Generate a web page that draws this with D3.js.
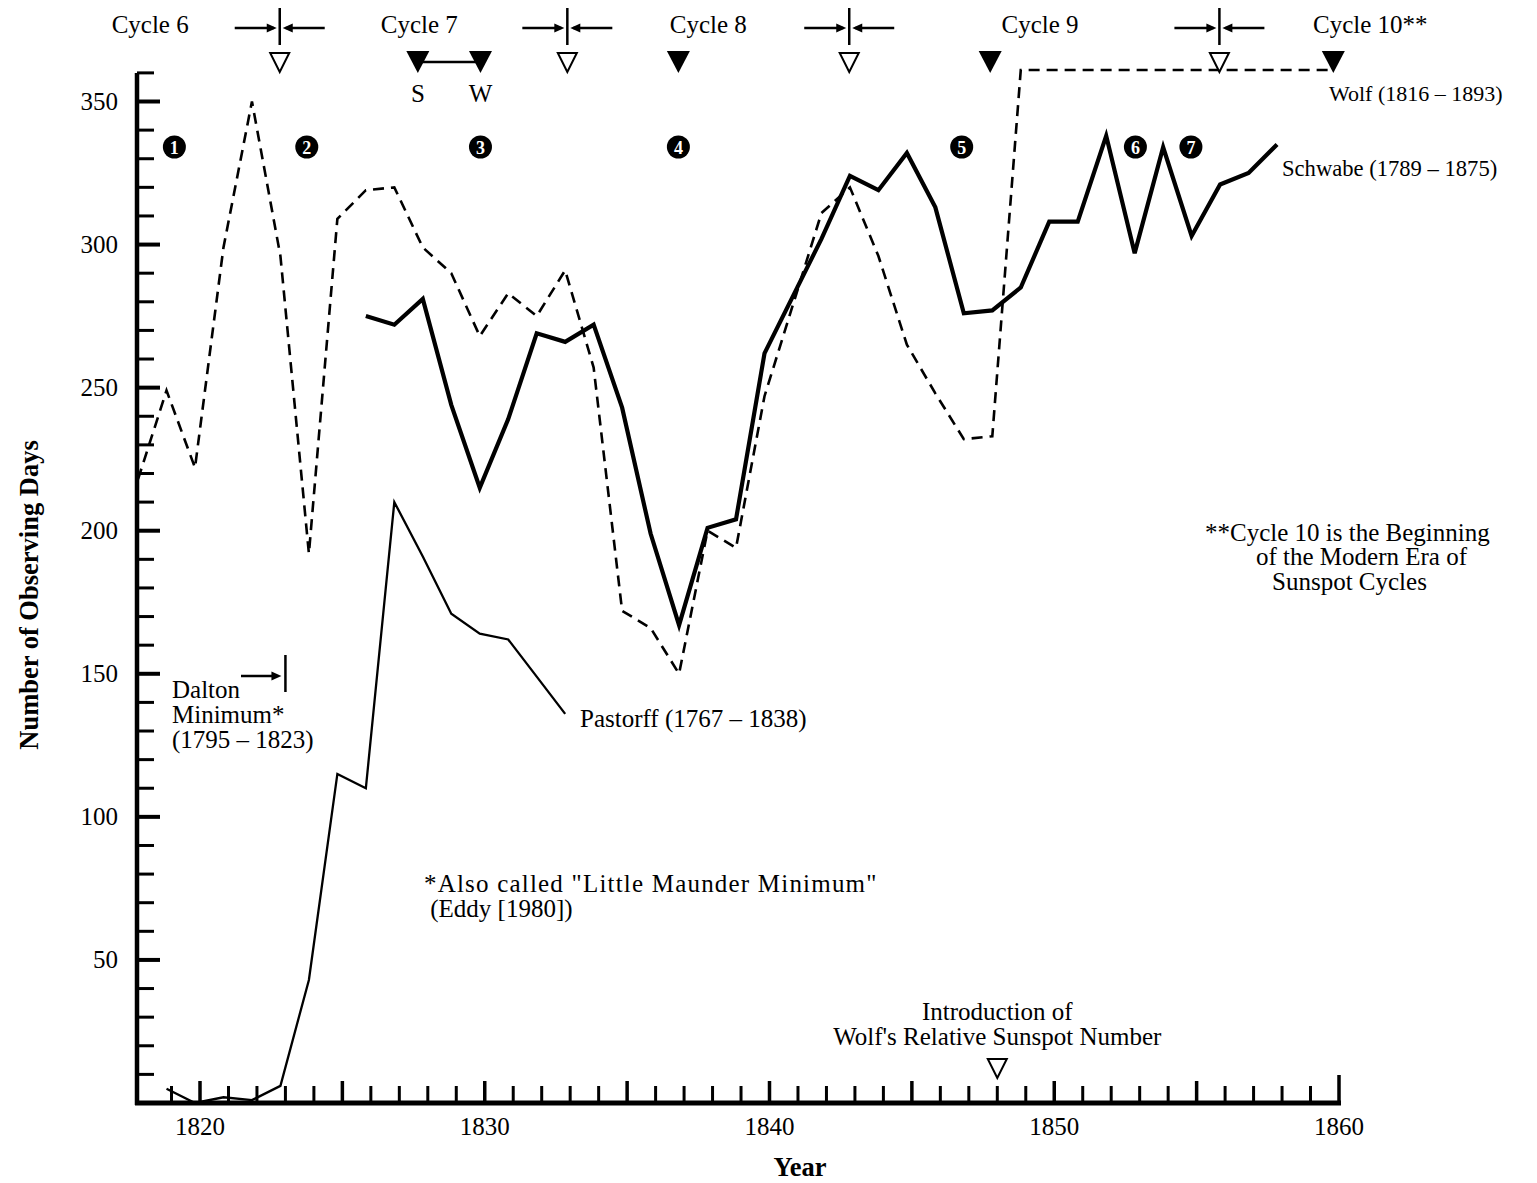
<!DOCTYPE html>
<html>
<head>
<meta charset="utf-8">
<script src="https://cdn.jsdelivr.net/npm/d3@7"></script>
<style>
  body { margin: 0; background: #fff; }
  svg { display: block; }
  text { font-family: "Liberation Serif", "Times New Roman", serif; fill: #000; }
</style>
</head>
<body>
<svg id="chart" width="1537" height="1183"></svg>
<script>
// Annual number of observing days, three observers
const wolfYears = [1818, 1819, 1820, 1821, 1822, 1823, 1824, 1825, 1826, 1827, 1828, 1829, 1830,
  1831, 1832, 1833, 1834, 1835, 1836, 1837, 1838, 1839, 1840, 1841, 1842, 1843, 1844, 1845,
  1846, 1847, 1848, 1849, 1850, 1851, 1852, 1853, 1854, 1855, 1856, 1857, 1858, 1859, 1860];
const wolfDays = [218, 249, 222, 299, 350, 296, 192, 309, 319, 320, 299, 290, 268,
  283, 275, 291, 257, 172, 166, 150, 200, 194, 247, 279, 311, 320, 296, 265,
  248, 232, 233, 361, 361, 361, 361, 361, 361, 361, 361, 361, 361, 361, 361];

const schwabeYears = [1826, 1827, 1828, 1829, 1830, 1831, 1832, 1833, 1834, 1835, 1836, 1837,
  1838, 1839, 1840, 1841, 1842, 1843, 1844, 1845, 1846, 1847, 1848, 1849, 1850, 1851, 1852,
  1853, 1854, 1855, 1856, 1857, 1858];
const schwabeDays = [275, 272, 281, 244, 215, 239, 269, 266, 272, 243, 199, 167,
  201, 204, 262, 282, 302, 324, 319, 332, 313, 276, 277, 285, 308, 308, 338,
  297, 334, 303, 321, 325, 335];

const pastorffYears = [1819, 1820, 1821, 1822, 1823, 1824, 1825, 1826, 1827, 1828, 1829, 1830, 1831, 1832, 1833];
const pastorffDays = [5, 0, 2, 1, 6, 43, 115, 110, 210, 191, 171, 164, 162, 149, 136];

// Axis ticks
const xLabelYears = [1820, 1830, 1840, 1850, 1860];
const xTickYears = [1819, 1820, 1821, 1822, 1823, 1824, 1825, 1826, 1827, 1828, 1829, 1830,
  1831, 1832, 1833, 1834, 1835, 1836, 1837, 1838, 1839, 1840, 1841, 1842, 1843, 1844, 1845,
  1846, 1847, 1848, 1849, 1850, 1851, 1852, 1853, 1854, 1855, 1856, 1857, 1858, 1859, 1860];
const yLabelValues = [50, 100, 150, 200, 250, 300, 350];
const yTickValues = [10, 20, 30, 40, 50, 60, 70, 80, 90, 100, 110, 120, 130, 140, 150, 160, 170,
  180, 190, 200, 210, 220, 230, 240, 250, 260, 270, 280, 290, 300, 310, 320, 330, 340, 350, 360];

// Solar cycle markers along the top
const cycleNames = ["Cycle 6", "Cycle 7", "Cycle 8", "Cycle 9", "Cycle 10**"];
const cycleNameYears = [1818.25, 1827.7, 1837.85, 1849.5, 1861.1];
const minimumYears = [1822.8, 1832.9, 1842.8, 1855.8];
const maximumYears = [1827.65, 1829.85, 1836.8, 1847.75, 1859.8];
const maximumTags = ["S", "W", "", "", ""];
const noteNumbers = ["1", "2", "3", "4", "5", "6", "7"];
const noteYears = [1819.1, 1823.75, 1829.85, 1836.8, 1846.75, 1852.85, 1854.8];
const wolfNumberYear = 1848;
const daltonEndYear = 1823;

const svg = d3.select("#chart");
// tick scale, and the series scale (series sit a little left of the year ticks)
const x = d3.scaleLinear().domain([1820, 1860]).range([200, 1339]);
const xs = d3.scaleLinear().domain([1820, 1860]).range([195, 1334]);
const y = d3.scaleLinear().domain([0, 350]).range([1103, 101.5]);

const axisX0 = 137;
const FS = 25;

// ---- axes ----
const axes = svg.append("g");
axes.append("line")
  .attr("x1", axisX0).attr("x2", axisX0)
  .attr("y1", y(0) + 2).attr("y2", y(360))
  .attr("stroke", "#000").attr("stroke-width", 4.5);
axes.append("line")
  .attr("x1", axisX0 - 2).attr("x2", x(1860) + 2)
  .attr("y1", y(0)).attr("y2", y(0))
  .attr("stroke", "#000").attr("stroke-width", 5);

axes.selectAll(".ytick").data(yTickValues).join("line")
  .attr("x1", axisX0)
  .attr("x2", d => axisX0 + (d % 50 === 0 ? 23 : 17))
  .attr("y1", d => y(d)).attr("y2", d => y(d))
  .attr("stroke", "#000")
  .attr("stroke-width", d => d % 50 === 0 ? 4 : 3);

axes.selectAll(".ylab").data(yLabelValues).join("text")
  .attr("x", 118).attr("y", d => y(d) + 8)
  .attr("text-anchor", "end").attr("font-size", FS)
  .text(d => d);

axes.selectAll(".xtick").data(xTickYears).join("line")
  .attr("x1", d => x(d)).attr("x2", d => x(d))
  .attr("y1", y(0))
  .attr("y2", d => y(0) - (d === 1860 ? 28 : d % 5 === 0 ? 22 : 17))
  .attr("stroke", "#000")
  .attr("stroke-width", d => d % 5 === 0 ? 3.5 : 3);

axes.selectAll(".xlab").data(xLabelYears).join("text")
  .attr("x", d => x(d)).attr("y", 1135)
  .attr("text-anchor", "middle").attr("font-size", FS)
  .text(d => d);

svg.append("text")
  .attr("x", 800).attr("y", 1176)
  .attr("text-anchor", "middle").attr("font-size", 26.5).attr("font-weight", "bold")
  .text("Year");

svg.append("text")
  .attr("transform", "translate(38,595) rotate(-90)")
  .attr("text-anchor", "middle").attr("font-size", 26.5).attr("font-weight", "bold")
  .text("Number of Observing Days");

// ---- series ----
const line = d3.line().x(d => xs(d[0])).y(d => y(d[1]));

svg.append("path")
  .datum(d3.zip(wolfYears, wolfDays))
  .attr("d", line)
  .attr("fill", "none").attr("stroke", "#000")
  .attr("stroke-width", 2.6).attr("stroke-dasharray", "11,7");

svg.append("path")
  .datum(d3.zip(pastorffYears, pastorffDays))
  .attr("d", line)
  .attr("fill", "none").attr("stroke", "#000")
  .attr("stroke-width", 2.3).attr("stroke-linejoin", "miter");

svg.append("path")
  .datum(d3.zip(schwabeYears, schwabeDays))
  .attr("d", line)
  .attr("fill", "none").attr("stroke", "#000")
  .attr("stroke-width", 4.2).attr("stroke-linejoin", "miter");

// ---- series labels ----
svg.append("text").attr("x", 1329).attr("y", 101).attr("font-size", 22).text("Wolf (1816 \u2013 1893)");
svg.append("text").attr("x", 1282).attr("y", 176).attr("font-size", 22.6).text("Schwabe (1789 \u2013 1875)");
svg.append("text").attr("x", 580).attr("y", 727).attr("font-size", FS).text("Pastorff (1767 \u2013 1838)");

// ---- top markers ----
const topG = svg.append("g");
topG.selectAll(".cyc").data(cycleNames).join("text")
  .attr("x", (d, i) => x(cycleNameYears[i])).attr("y", 33)
  .attr("text-anchor", "middle").attr("font-size", FS)
  .text(d => d);

function arrowHead(g, tipX, tipY, dir) {
  // dir = +1 points right, -1 points left
  g.append("path")
    .attr("d", `M${tipX},${tipY} L${tipX - dir * 10},${tipY - 4.5} L${tipX - dir * 10},${tipY + 4.5} Z`)
    .attr("fill", "#000");
}

function bracket(cx, cy, yTop, yBot) {
  const g = topG.append("g");
  g.append("line").attr("x1", cx).attr("x2", cx).attr("y1", yTop).attr("y2", yBot)
    .attr("stroke", "#000").attr("stroke-width", 2.5);
  g.append("line").attr("x1", cx - 45).attr("x2", cx - 6).attr("y1", cy).attr("y2", cy)
    .attr("stroke", "#000").attr("stroke-width", 2.5);
  arrowHead(g, cx - 3, cy, 1);
  g.append("line").attr("x1", cx + 45).attr("x2", cx + 6).attr("y1", cy).attr("y2", cy)
    .attr("stroke", "#000").attr("stroke-width", 2.5);
  arrowHead(g, cx + 3, cy, -1);
}

function openTriangle(cx, cyTop) {
  topG.append("path")
    .attr("d", `M${cx - 9.5},${cyTop} L${cx + 9.5},${cyTop} L${cx},${cyTop + 19} Z`)
    .attr("fill", "#fff").attr("stroke", "#000").attr("stroke-width", 2);
}

function filledTriangle(cx, cyTop) {
  topG.append("path")
    .attr("d", `M${cx - 11.5},${cyTop} L${cx + 11.5},${cyTop} L${cx},${cyTop + 22} Z`)
    .attr("fill", "#000");
}

minimumYears.forEach(yr => {
  bracket(x(yr), 28, 8, 45);
  openTriangle(x(yr), 53);
});

// S-W connector between the two estimates of the Cycle 7 maximum
topG.append("line")
  .attr("x1", x(maximumYears[0])).attr("x2", x(maximumYears[1]))
  .attr("y1", 62).attr("y2", 62)
  .attr("stroke", "#000").attr("stroke-width", 2.5);

maximumYears.forEach((yr, i) => {
  filledTriangle(x(yr), 51);
  if (maximumTags[i]) {
    topG.append("text").attr("x", x(yr)).attr("y", 102)
      .attr("text-anchor", "middle").attr("font-size", FS).text(maximumTags[i]);
  }
});

// numbered notes
const notes = svg.append("g");
noteNumbers.forEach((n, i) => {
  notes.append("circle").attr("cx", x(noteYears[i])).attr("cy", 147).attr("r", 11.5).attr("fill", "#000");
  notes.append("text").attr("x", x(noteYears[i])).attr("y", 154)
    .attr("text-anchor", "middle").attr("font-size", 18).attr("font-weight", "bold")
    .style("fill", "#fff").text(n);
});

// ---- annotations ----
const ann = svg.append("g");
[["Dalton", 698], ["Minimum*", 723], ["(1795 \u2013 1823)", 748]].forEach(([t, yy]) => {
  ann.append("text").attr("x", 172).attr("y", yy).attr("font-size", FS).text(t);
});
ann.append("line").attr("x1", 241).attr("x2", 275).attr("y1", 676).attr("y2", 676)
  .attr("stroke", "#000").attr("stroke-width", 2.5);
arrowHead(ann, x(daltonEndYear) - 4, 676, 1);
ann.append("line").attr("x1", x(daltonEndYear)).attr("x2", x(daltonEndYear))
  .attr("y1", 655).attr("y2", 692).attr("stroke", "#000").attr("stroke-width", 2.5);

ann.append("text").attr("x", 424).attr("y", 892).attr("font-size", FS)
  .attr("letter-spacing", 1.2)
  .text("*Also called \"Little Maunder Minimum\"");
ann.append("text").attr("x", 424).attr("y", 917).attr("font-size", FS)
  .attr("xml:space", "preserve").text(" (Eddy [1980])");

ann.append("text").attr("x", 1205).attr("y", 541).attr("font-size", FS).text("**Cycle 10 is the Beginning");
ann.append("text").attr("x", 1256).attr("y", 565).attr("font-size", FS).text("of the Modern Era of");
ann.append("text").attr("x", 1272).attr("y", 590).attr("font-size", FS).text("Sunspot Cycles");

ann.append("text").attr("x", x(wolfNumberYear)).attr("y", 1020)
  .attr("text-anchor", "middle").attr("font-size", FS).text("Introduction of");
ann.append("text").attr("x", x(wolfNumberYear)).attr("y", 1045)
  .attr("text-anchor", "middle").attr("font-size", FS).text("Wolf's Relative Sunspot Number");
ann.append("path")
  .attr("d", `M${x(wolfNumberYear) - 9.5},${1059} L${x(wolfNumberYear) + 9.5},${1059} L${x(wolfNumberYear)},${1078} Z`)
  .attr("fill", "#fff").attr("stroke", "#000").attr("stroke-width", 2);
</script>
</body>
</html>
